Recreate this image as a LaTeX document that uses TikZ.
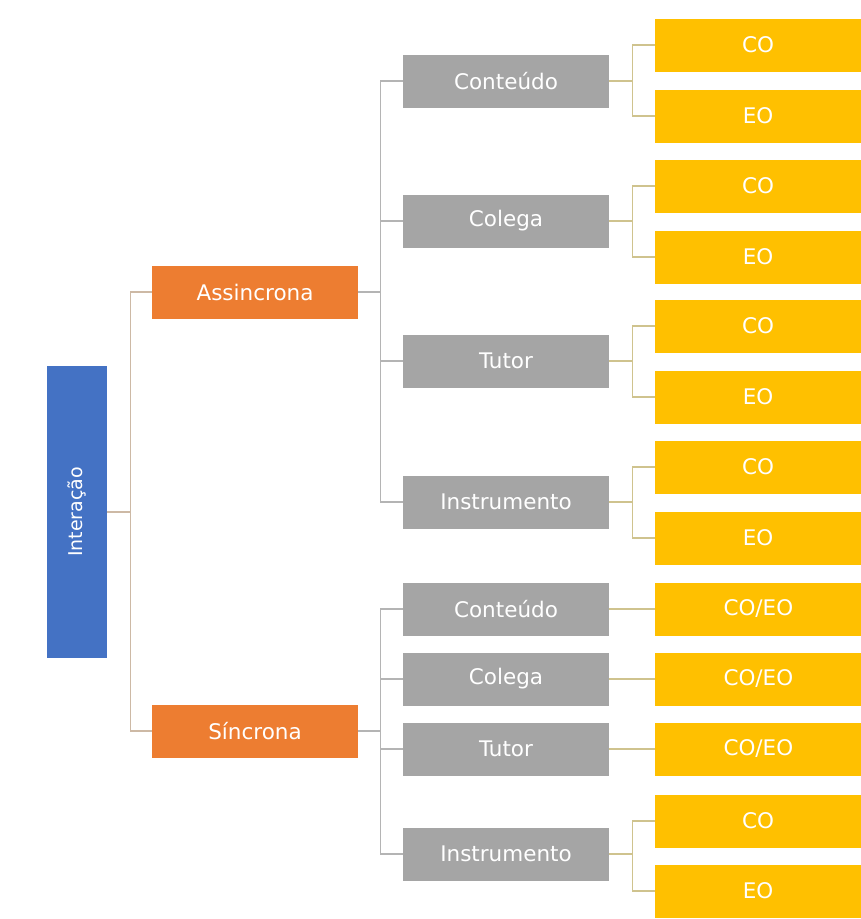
\documentclass[tikz,border=0pt]{standalone}
\usepackage{fontspec}
\setmainfont{DejaVu Sans}
\definecolor{azulbox}{HTML}{4472C4}
\definecolor{laranja}{HTML}{ED7D31}
\definecolor{cinzabox}{HTML}{A5A5A5}
\definecolor{ouro}{HTML}{FFC000}
\definecolor{linhaA}{HTML}{CDB9A5}
\definecolor{linhaB}{HTML}{B4B4B4}
\definecolor{linhaC}{HTML}{CFC38E}
\begin{document}
\begin{tikzpicture}[x=1pt,y=-1pt,
  caixa/.style={minimum width=206pt,minimum height=53pt,inner sep=0pt,text=white,font=\fontsize{21.5}{25}\selectfont},
  azul/.style={fill=azulbox,minimum width=60pt,minimum height=292pt,inner sep=0pt,text=white,font=\fontsize{19}{23}\selectfont},
  lar/.style={caixa,fill=laranja},
  cinza/.style={caixa,fill=cinzabox},
  amar/.style={caixa,fill=ouro},
  lnkA/.style={draw=linhaA,line width=1.4pt},
  lnkB/.style={draw=linhaB,line width=1.4pt},
  lnkC/.style={draw=linhaC,line width=1.4pt}]
\useasboundingbox (0,0) rectangle (861,919);
\node[azul](inter)at(77,512){\rotatebox{90}{Interação}};
\node[lar](asinc)at(255,292){Assincrona};
\node[lar](sinc)at(255,731){Síncrona};
\draw[lnkA](inter.east)--++(23,0)|-(asinc.west);
\draw[lnkA](inter.east)--++(23,0)|-(sinc.west);
% assincrona: cada um com CO e EO
\foreach \n/\t/\y in {a1/Conteúdo/81,a2/Colega/221,a3/Tutor/361,a4/Instrumento/502}{
  \node[cinza](\n)at(506,\y){\t};
  \draw[lnkB](asinc.east)--++(22,0)|-(\n.west);}
\foreach \n/\y in {a1/45,a2/186,a3/326,a4/467}{
  \node[amar](\n co)at(758,\y){CO};
  \node[amar](\n eo)at(758,\y+71){EO};
  \draw[lnkC](\n.east)--++(23,0)|-(\n co.west);
  \draw[lnkC](\n.east)--++(23,0)|-(\n eo.west);}
% sincrona
\foreach \n/\t/\y in {s1/Conteúdo/609,s2/Colega/679,s3/Tutor/749,s4/Instrumento/854}{
  \node[cinza](\n)at(506,\y){\t};
  \draw[lnkB](sinc.east)--++(22,0)|-(\n.west);}
\foreach \n in {s1,s2,s3}{
  \node[amar,anchor=west](\n x)at([xshift=46pt]\n.east){CO/EO};
  \draw[lnkC](\n.east)--(\n x.west);}
\node[amar](s4co)at(758,821){CO};
\node[amar](s4eo)at(758,891){EO};
\draw[lnkC](s4.east)--++(23,0)|-(s4co.west);
\draw[lnkC](s4.east)--++(23,0)|-(s4eo.west);
\end{tikzpicture}
\end{document}
